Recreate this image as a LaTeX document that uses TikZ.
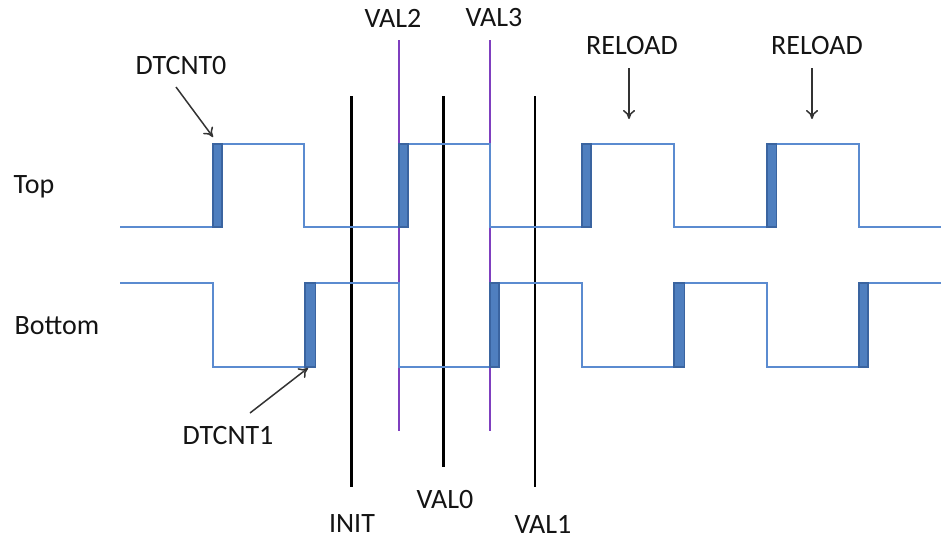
\documentclass[tikz,border=0pt]{standalone}
\usepackage{fontspec}
\setmainfont{Carlito}
\usetikzlibrary{arrows.meta}
\definecolor{wave}{HTML}{5B8BD0}
\definecolor{edgefill}{HTML}{4F7FBF}
\definecolor{edgeline}{HTML}{3A64A0}
\definecolor{purp}{HTML}{7F3FBF}
\definecolor{txt}{HTML}{141414}
\tikzset{
  wavel/.style={draw=wave, line width=2.4pt, line join=miter},
  deadband/.style={fill=edgefill, draw=edgeline, line width=1.2pt},
  blackline/.style={draw=black, line width=2.2pt},
  purpleline/.style={draw=purp, line width=2pt},
  lbl/.style={text=txt, font=\fontsize{28}{32}\selectfont, inner sep=0pt},
  pointer/.style={draw=black!80, line width=1.5pt, -{To[length=9pt,width=12pt]}},
}
\begin{document}
\begin{tikzpicture}[x=1pt,y=-1pt]
\useasboundingbox (0,0) rectangle (941,542);
% vertical markers
\coordinate (initT) at (351.5,96);  \coordinate (initB) at (351.5,487);
\coordinate (v0T) at (443.5,96);    \coordinate (v0B) at (443.5,467);
\coordinate (v1T) at (535,96);      \coordinate (v1B) at (535,487);
\coordinate (v2T) at (398.5,40);    \coordinate (v2B) at (398.5,431);
\coordinate (v3T) at (490,40);      \coordinate (v3B) at (490,431);
\draw[blackline] (initT) -- (initB);
\draw[blackline] (v0T) -- (v0B);
\draw[blackline] (v1T) -- (v1B);
\draw[purpleline] (v2T) -- (v2B);
\draw[purpleline] (v3T) -- (v3B);
% top waveform
\draw[wavel] (120,227) -- (213,227) -- (213,144) -- (304,144) -- (304,227)
  -- (399,227) -- (399,144) -- (490,144) -- (490,227)
  -- (582,227) -- (582,144) -- (674,144) -- (674,227)
  -- (767,227) -- (767,144) -- (859,144) -- (859,227) -- (941,227);
% bottom waveform
\draw[wavel] (120,283) -- (213,283) -- (213,367) -- (305,367) -- (305,283)
  -- (399,283) -- (399,367) -- (490,367) -- (490,283)
  -- (582,283) -- (582,367) -- (674,367) -- (674,283)
  -- (767,283) -- (767,367) -- (859,367) -- (859,283) -- (941,283);
% dead-band rectangles
\draw[deadband] (213,227) rectangle (222,144);
\draw[deadband] (399,227) rectangle (408,144);
\draw[deadband] (582,227) rectangle (591,144);
\draw[deadband] (767,227) rectangle (776.5,144);
\draw[deadband] (305,367) rectangle (315.5,283);
\draw[deadband] (490,367) rectangle (499,283);
\draw[deadband] (674,367) rectangle (684.5,283);
\draw[deadband] (859,367) rectangle (868,283);
% labels
\node[lbl] (top) at (34,187) {Top};
\node[lbl] (bottom) at (57,326) {Bottom};
\node[lbl] (dt0) at (181,66) {DTCNT0};
\node[lbl] (dt1) at (228,435) {DTCNT1};
\node[lbl] (val2) at (393,18) {VAL2};
\node[lbl] (val3) at (494,18) {VAL3};
\node[lbl] (val0) at (445,499) {VAL0};
\node[lbl] (init) at (352,524) {INIT};
\node[lbl] (val1) at (543,524) {VAL1};
\node[lbl] (rl1) at (632,46) {RELOAD};
\node[lbl] (rl2) at (817,46) {RELOAD};
% arrows
\coordinate (dt0s) at (176,87);  \coordinate (dt0e) at (213,137);
\coordinate (dt1s) at (250,413); \coordinate (dt1e) at (308,368);
\coordinate (rl1s) at (629,68);  \coordinate (rl1e) at (629,119);
\coordinate (rl2s) at (812,68);  \coordinate (rl2e) at (812,119);
\draw[pointer] (dt0s) -- (dt0e);
\draw[pointer] (dt1s) -- (dt1e);
\draw[pointer] (rl1s) -- (rl1e);
\draw[pointer] (rl2s) -- (rl2e);
\end{tikzpicture}
\end{document}
